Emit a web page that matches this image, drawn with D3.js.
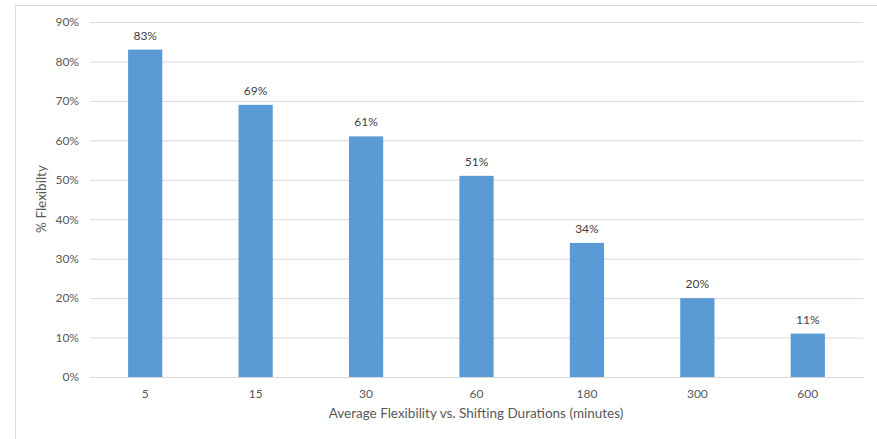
<!DOCTYPE html>
<html><head><meta charset="utf-8">
<script src="https://cdn.jsdelivr.net/npm/d3@7"></script>
<style>body{margin:0;background:#fff}svg{display:block}text{font-family:Lato,"Open Sans",sans-serif}</style>
</head><body>
<script>
const categories = ["5","15","30","60","180","300","600"];
const values = [83,69,61,51,34,20,11];
const yTicks = [0,10,20,30,40,50,60,70,80,90];

const W=877,H=439;
const m={left:90,right:14,top:22,bottom:62};
const svg=d3.select("body").append("svg").attr("width",W).attr("height",H);
svg.append("rect").attr("x",15.5).attr("y",5.5).attr("width",W).attr("height",H).attr("fill","#fff").attr("stroke","#d9d9d9");

const x=d3.scaleBand().domain(categories).range([m.left,W-m.right]).paddingInner(0.69).paddingOuter(0.345);
const y=d3.scaleLinear().domain([0,90]).range([H-m.bottom,m.top]);

const gy=svg.append("g").attr("transform",`translate(${m.left},0)`)
  .call(d3.axisLeft(y).tickValues(yTicks).tickSize(-(W-m.left-m.right)).tickPadding(11).tickFormat(d=>d+"%"));
gy.select(".domain").remove();
gy.selectAll("line").attr("stroke","#d9d9d9");
gy.selectAll("text").attr("fill","#595959").attr("font-size","12px");

svg.selectAll("rect.bar").data(values).join("rect").attr("class","bar")
  .attr("x",(d,i)=>x(categories[i])).attr("width",x.bandwidth())
  .attr("y",d=>y(d)).attr("height",d=>y(0)-y(d)).attr("fill","#5b9bd5");

svg.selectAll("text.lbl").data(values).join("text").attr("class","lbl")
  .attr("x",(d,i)=>x(categories[i])+x.bandwidth()/2).attr("y",d=>y(d)-10)
  .attr("text-anchor","middle").attr("fill","#404040").attr("font-size","12px").text(d=>d+"%");

const gx=svg.append("g").attr("transform",`translate(0,${y(0)})`)
  .call(d3.axisBottom(x).tickSize(0).tickPadding(12));
gx.select(".domain").attr("stroke","#d9d9d9");
gx.selectAll("text").attr("fill","#595959").attr("font-size","12px");

svg.append("text").attr("x",476).attr("y",418).attr("text-anchor","middle")
  .attr("fill","#595959").attr("font-size","13.5px").text("Average Flexibility vs. Shifting Durations (minutes)");
svg.append("text").attr("transform",`translate(46,199) rotate(-90)`).attr("text-anchor","middle")
  .attr("fill","#595959").attr("font-size","13.5px").text("% Flexibilty");
</script>
</body></html>
